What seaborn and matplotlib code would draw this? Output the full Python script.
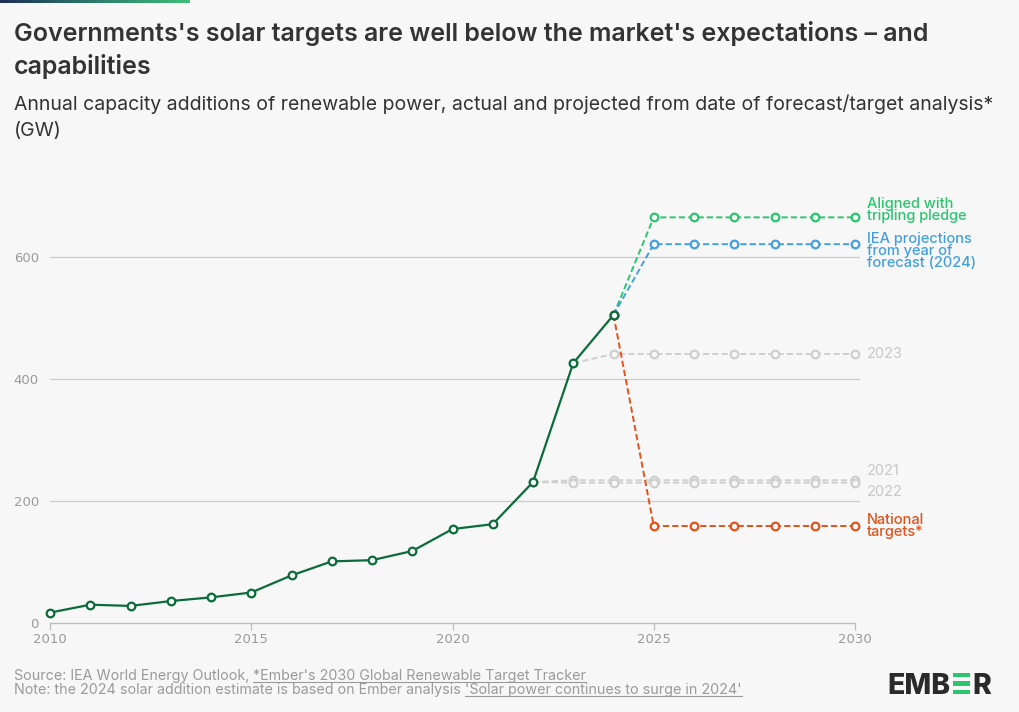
import numpy as np
import pandas as pd
import matplotlib
matplotlib.use("Agg")
import matplotlib.pyplot as plt
from matplotlib.colors import LinearSegmentedColormap
import seaborn as sns

# ---------------- data ----------------
actual_years = list(range(2010, 2025))
actual_values = [17, 30, 28, 36, 42, 50, 78, 101, 103, 118, 154, 162, 231, 426, 505]

proj_years = [2024, 2025, 2026, 2027, 2028, 2029, 2030]
tripling_values = [505, 665, 665, 665, 665, 665, 665]
iea2024_values = [505, 621, 621, 621, 621, 621, 621]
national_values = [505, 159, 159, 159, 159, 159, 159]

iea2023_years = [2023, 2024, 2025, 2026, 2027, 2028, 2029, 2030]
iea2023_values = [426, 441, 441, 441, 441, 441, 441, 441]

iea2122_years = [2022, 2023, 2024, 2025, 2026, 2027, 2028, 2029, 2030]
iea2021_values = [231, 234, 234, 234, 234, 234, 234, 234, 234]
iea2022_values = [231, 230, 230, 230, 230, 230, 230, 230, 230]

y_ticks = [0, 200, 400, 600]
x_ticks = [2010, 2015, 2020, 2025, 2030]

title = "Governments's solar targets are well below the market's expectations – and\ncapabilities"
subtitle = "Annual capacity additions of renewable power, actual and projected from date of forecast/target analysis*\n(GW)"

# ---------------- style ----------------
BG = "#f7f7f7"
C_ACT = "#0b6b3a"
C_TRI = "#2cc46f"
C_IEA = "#44a0dc"
C_NAT = "#e0531b"
C_GREY = "#cfcfcf"
C_LBL_GREY = "#c8c8c8"
C_TICK = "#9a9a9a"

sns.set_theme(style="white")
plt.rcParams["font.family"] = ["Inter", "DejaVu Sans"]

fig = plt.figure(figsize=(10.2, 7.12), dpi=100, facecolor=BG)
ax = fig.add_axes([50 / 1020, 89 / 712, 805 / 1020, 427 / 712], facecolor=BG)

dash = (0, (3.2, 1.6))
mk = dict(marker="o", markersize=5.5, markerfacecolor=BG, markeredgewidth=1.6)


def draw(xs, ys, color, dashed=True, z=3, lw=1.4):
    sns.lineplot(x=xs, y=ys, ax=ax, color=color, linewidth=lw,
                 linestyle=dash if dashed else "-", markeredgecolor=color,
                 zorder=z, clip_on=False, **mk)


draw(iea2122_years, iea2021_values, C_GREY, z=2)
draw(iea2122_years, iea2022_values, C_GREY, z=2)
draw(iea2023_years, iea2023_values, C_GREY, z=2)
draw(proj_years, tripling_values, C_TRI, z=3)
draw(proj_years, iea2024_values, C_IEA, z=3)
draw(proj_years, national_values, C_NAT, z=3)
draw(actual_years, actual_values, C_ACT, dashed=False, z=5, lw=1.6)

ax.set_xlim(2010, 2030)
ax.set_ylim(0, 700)
ax.set_yticks(y_ticks)
ax.set_yticklabels([str(v) for v in y_ticks], fontfamily="DejaVu Sans")
ax.set_xticks(x_ticks)
ax.set_xticklabels([str(v) for v in x_ticks], fontfamily="DejaVu Sans")
for v in y_ticks[1:]:
    ax.plot([2010, 2030.1], [v, v], color="#cccccc", linewidth=0.9, zorder=1, clip_on=False)
for s in ["top", "right", "left"]:
    ax.spines[s].set_visible(False)
ax.spines["bottom"].set_color("#bbbbbb")
ax.spines["bottom"].set_linewidth(1.0)
ax.tick_params(axis="y", length=0, pad=8, labelsize=9.5, labelcolor=C_TICK)
ax.tick_params(axis="x", length=5, width=0.9, color="#bbbbbb", pad=2,
               labelsize=9.5, labelcolor=C_TICK, bottom=True)
ax.set_xlabel("")
ax.set_ylabel("")
ax.grid(False)

# right-hand labels
lbl_kw = dict(fontsize=10.5, va="center", ha="left", linespacing=0.85,
              transform=ax.transData, clip_on=False)
xl = 2030.3
ax.text(xl, 677, "Aligned with\ntripling pledge", color=C_TRI, fontweight="medium", **lbl_kw)
ax.text(xl, 610, "IEA projections\nfrom year of\nforecast (2024)", color=C_IEA, fontweight="medium", **lbl_kw)
ax.text(xl, 441, "2023", color=C_LBL_GREY, **lbl_kw)
ax.text(xl, 249, "2021", color=C_LBL_GREY, **lbl_kw)
ax.text(xl, 215, "2022", color=C_LBL_GREY, **lbl_kw)
ax.text(xl, 159, "National\ntargets*", color=C_NAT, fontweight="medium", **lbl_kw)

# top gradient bar
grad_ax = fig.add_axes([0, 1 - 3 / 712, 190 / 1020, 3 / 712])
cmap = LinearSegmentedColormap.from_list("g", ["#1d2f5a", "#2b7d6a", "#3fbf78"])
grad_ax.imshow(np.linspace(0, 1, 256)[None, :], aspect="auto", cmap=cmap)
grad_ax.axis("off")

# title + subtitle
fig.text(14 / 1020, 1 - 21 / 712, title, fontsize=18, fontweight="semibold",
         color="#333333", va="top", ha="left", linespacing=1.42)
fig.text(14 / 1020, 1 - 95 / 712, subtitle, fontsize=14, color="#333333",
         va="top", ha="left", linespacing=1.55)

# footer
fc = "#9a9a9a"
fs = 10.3
t1 = fig.text(14 / 1020, 1 - 676 / 712, "Source: IEA World Energy Outlook, ", fontsize=fs,
              color=fc, va="center", ha="left")
t2 = fig.text(14 / 1020, 1 - 690 / 712, "Note: the 2024 solar addition estimate is based on Ember analysis ",
              fontsize=fs, color=fc, va="center", ha="left")
fig.canvas.draw()
r = fig.canvas.get_renderer()
inv = fig.transFigure.inverted()


def after(t, s, y):
    bb = t.get_window_extent(r)
    x0 = inv.transform((bb.x1, bb.y0))[0]
    t3 = fig.text(x0, 1 - y / 712, s, fontsize=fs, color=fc, va="center", ha="left")
    fig.canvas.draw()
    b3 = t3.get_window_extent(r)
    p0 = inv.transform((b3.x0, b3.y0 + 1.5))
    p1 = inv.transform((b3.x1, b3.y0 + 1.5))
    fig.add_artist(plt.Line2D([p0[0], p1[0]], [p0[1], p1[1]], color=fc, linewidth=0.8,
                              transform=fig.transFigure))


after(t1, "*Ember's 2030 Global Renewable Target Tracker", 676)
after(t2, "'Solar power continues to surge in 2024'", 690)

# EMBER logo
logo_kw = dict(fontsize=20.5, fontweight="heavy", color="#2a2a2a", va="baseline", ha="left",
               fontfamily=["Inter", "DejaVu Sans"])
yl = 1 - 694 / 712
a = fig.text(887 / 1020, yl, "EMB", **logo_kw)
fig.canvas.draw()
ba = a.get_window_extent(r)
xe = ba.x1 + 2.5
bar_w = 17
for yc in [675, 683.3, 691.7]:
    fig.add_artist(plt.Rectangle((xe / 1020, 1 - (yc + 2.2) / 712), bar_w / 1020, 4.4 / 712,
                                 transform=fig.transFigure, color="#2cc46f", linewidth=0))
fig.text((xe + bar_w + 2.5) / 1020, yl, "R", **logo_kw)

fig.savefig("out.png", dpi=100, facecolor=BG)
